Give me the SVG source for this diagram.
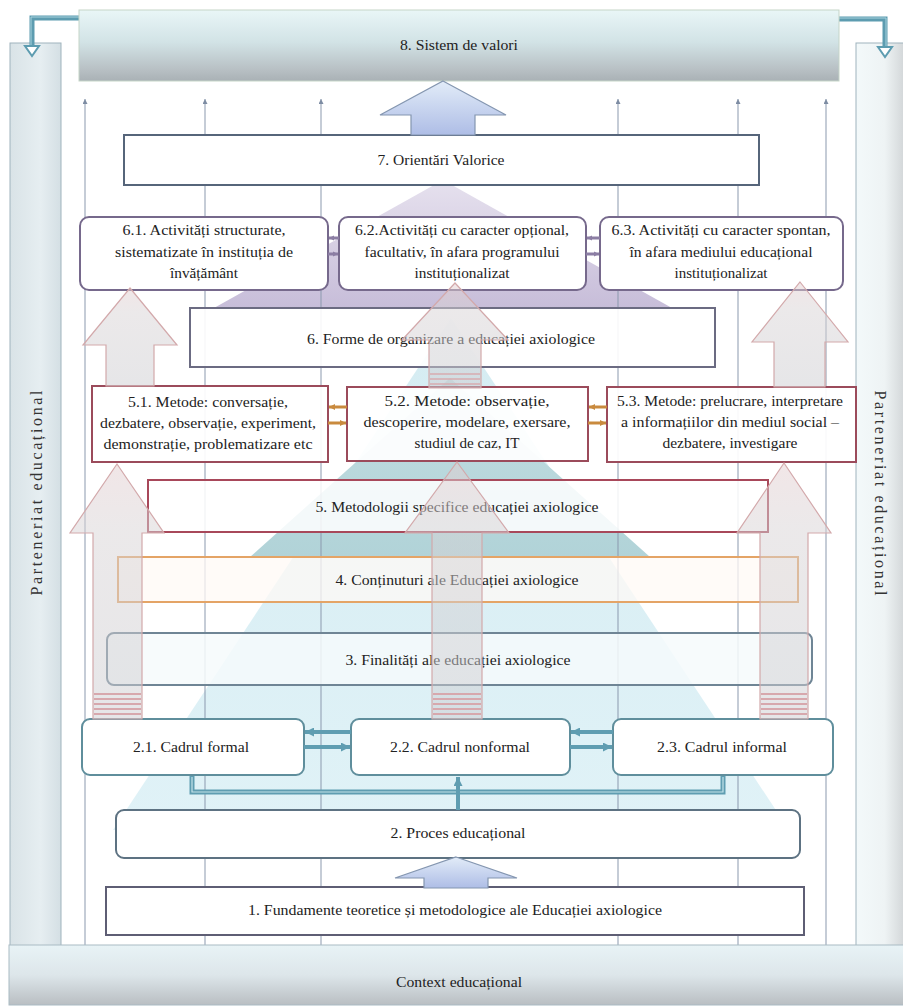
<svg xmlns="http://www.w3.org/2000/svg" width="903" height="1008" viewBox="0 0 903 1008">
<defs>
<style>
.t{font-family:"Liberation Serif","Times New Roman",serif;font-size:15px;fill:#222;text-anchor:middle}
.side{font-family:"Liberation Serif","Times New Roman",serif;font-size:16px;fill:#333;text-anchor:middle}
.vl{stroke:#8b99ae;stroke-width:1;fill:none}
.pa{fill:url(#gPink);fill-opacity:.5;stroke:#d3a9ab;stroke-width:1.2}
.ba{fill:url(#gBlue);stroke:#8496b0;stroke-width:1.2}
.st{stroke:#d7a8ad;stroke-width:2}
.teal{stroke:#5f9db1;stroke-width:4;fill:none}
.or{stroke:#c98a3e;stroke-width:3;fill:none}
.pu{stroke:#8c7ea4;stroke-width:3;fill:none}
</style>
<linearGradient id="g8" x1="0" y1="0" x2="0" y2="1">
<stop offset="0" stop-color="#e9f6f7"/><stop offset="0.45" stop-color="#d2e3e6"/><stop offset="0.85" stop-color="#b7bfc3"/><stop offset="1" stop-color="#a9b1b5"/>
</linearGradient>
<linearGradient id="gCtx" x1="0" y1="0" x2="0" y2="1">
<stop offset="0" stop-color="#e8f3f6"/><stop offset="0.5" stop-color="#dde6ea"/><stop offset="1" stop-color="#b9bec2"/>
</linearGradient>
<linearGradient id="gL" x1="0" y1="0" x2="1" y2="0">
<stop offset="0" stop-color="#d9e3e7"/><stop offset="0.6" stop-color="#e6eef1"/><stop offset="1" stop-color="#d4dfe4"/>
</linearGradient>
<linearGradient id="gR" x1="0" y1="0" x2="1" y2="0">
<stop offset="0" stop-color="#f3f9fa"/><stop offset="0.6" stop-color="#eef3f4"/><stop offset="1" stop-color="#d3d7d9"/>
</linearGradient>
<linearGradient id="gBlue" x1="0" y1="0" x2="0" y2="1">
<stop offset="0" stop-color="#e2ecf8"/><stop offset="1" stop-color="#aebde6"/>
</linearGradient>
<linearGradient id="gPink" x1="0" y1="0" x2="0" y2="1">
<stop offset="0" stop-color="#e3cdcf"/><stop offset="0.25" stop-color="#d8d3d5"/><stop offset="1" stop-color="#cdcdd1"/>
</linearGradient>
<linearGradient id="gLav" x1="0" y1="0" x2="0" y2="1">
<stop offset="0" stop-color="#e6e1ee"/><stop offset="1" stop-color="#c7bdd9"/>
</linearGradient>
<linearGradient id="gTeal" x1="0" y1="0" x2="0" y2="1">
<stop offset="0" stop-color="#c2dde1"/><stop offset="1" stop-color="#b1d3d8"/>
</linearGradient>
<linearGradient id="gLb" x1="0" y1="0" x2="0" y2="1">
<stop offset="0" stop-color="#d5ecf2"/><stop offset="1" stop-color="#e0f2f7"/>
</linearGradient>
<marker id="mV" viewBox="0 0 10 10" refX="10" refY="5" markerWidth="6" markerHeight="5" markerUnits="userSpaceOnUse" orient="auto"><path d="M0,0 L10,5 L0,10 z" fill="#7d8ca3"/></marker>
<marker id="mT" viewBox="0 0 10 10" refX="10" refY="5" markerWidth="9" markerHeight="9" markerUnits="userSpaceOnUse" orient="auto"><path d="M0,0 L10,5 L0,10 z" fill="#5f9db1"/></marker>
<marker id="mO" viewBox="0 0 10 10" refX="10" refY="5" markerWidth="6" markerHeight="6" markerUnits="userSpaceOnUse" orient="auto"><path d="M0,0 L10,5 L0,10 z" fill="#c98a3e"/></marker>
<marker id="mP" viewBox="0 0 10 10" refX="10" refY="5" markerWidth="5" markerHeight="6" markerUnits="userSpaceOnUse" orient="auto"><path d="M0,0 L10,5 L0,10 z" fill="#8c7ea4"/></marker>
</defs>

<g id="background">
<rect x="0" y="0" width="903" height="1008" fill="#ffffff"/>
<rect id="bar-left" x="10" y="43" width="51" height="910" fill="url(#gL)" stroke="#9fb3bd" stroke-width="1"/>
<rect id="bar-right" x="856" y="43" width="48" height="910" fill="url(#gR)" stroke="#9fb3bd" stroke-width="1"/>
<polygon points="451,318 113,830 789,830" fill="url(#gLb)"/>
<polygon points="443,180 214,308 672,308" fill="url(#gLav)"/>
<polygon points="450,378 250,557 650,557" fill="url(#gTeal)"/>
</g>

<g id="connectors">
<g id="thin-lines">
<path class="vl" d="M85 945 V99" marker-end="url(#mV)"/>
<path class="vl" d="M205 945 V99" marker-end="url(#mV)"/>
<path class="vl" d="M321 945 V99" marker-end="url(#mV)"/>
<path class="vl" d="M618 945 V99" marker-end="url(#mV)"/>
<path class="vl" d="M738 945 V99" marker-end="url(#mV)"/>
<path class="vl" d="M826 945 V99" marker-end="url(#mV)"/>
</g>
<g id="bent-arrows">
<path d="M84 18 H32 V47" fill="none" stroke="#5d9cb0" stroke-width="5"/>
<path d="M84 17 H31 V47" fill="none" stroke="#a9d3de" stroke-width="1"/>
<polygon points="25,46 39,46 32,56" fill="#fff" stroke="#5d9cb0" stroke-width="2"/>
<path d="M833 19 H885 V48" fill="none" stroke="#5d9cb0" stroke-width="5"/>
<path d="M833 18 H886 V48" fill="none" stroke="#a9d3de" stroke-width="1"/>
<polygon points="878,47 892,47 885,57" fill="#fff" stroke="#5d9cb0" stroke-width="2"/>
</g>
</g>

<g id="n8">
<rect x="79" y="10" width="760" height="71" fill="url(#g8)" stroke="#c5d5c8" stroke-width="1"/>
<text class="t" x="459" y="50" textLength="118" lengthAdjust="spacingAndGlyphs">8. Sistem de valori</text>
</g>

<g id="n7">
<rect x="124" y="135" width="635" height="50" fill="#fff" stroke="#56657a" stroke-width="2"/>
<text class="t" x="441" y="165" textLength="127" lengthAdjust="spacingAndGlyphs">7. Orientări Valorice</text>
</g>

<g id="n6-1">
<rect x="80" y="217" width="248" height="73" rx="9" fill="#fff" stroke="#76698c" stroke-width="2"/>
<text class="t" x="204" y="235" textLength="163" lengthAdjust="spacingAndGlyphs">6.1. Activități structurate,</text>
<text class="t" x="204" y="257" textLength="178" lengthAdjust="spacingAndGlyphs">sistematizate în instituția de</text>
<text class="t" x="204" y="278" textLength="68" lengthAdjust="spacingAndGlyphs">învățământ</text>
</g>
<g id="n6-2">
<rect x="339" y="217" width="247" height="73" rx="9" fill="#fff" stroke="#76698c" stroke-width="2"/>
<text class="t" x="462" y="235" textLength="214" lengthAdjust="spacingAndGlyphs">6.2.Activități cu caracter opțional,</text>
<text class="t" x="462" y="257" textLength="195" lengthAdjust="spacingAndGlyphs">facultativ, în afara programului</text>
<text class="t" x="462" y="278" textLength="95" lengthAdjust="spacingAndGlyphs">instituționalizat</text>
</g>
<g id="n6-3">
<rect x="600" y="217" width="243" height="73" rx="9" fill="#fff" stroke="#76698c" stroke-width="2"/>
<text class="t" x="721" y="235" textLength="219" lengthAdjust="spacingAndGlyphs">6.3. Activități cu caracter spontan,</text>
<text class="t" x="721" y="257" textLength="183" lengthAdjust="spacingAndGlyphs">în afara mediului educațional</text>
<text class="t" x="721" y="278" textLength="93" lengthAdjust="spacingAndGlyphs">instituționalizat</text>
</g>

<g id="n6">
<rect x="190" y="308" width="525" height="59" fill="#fff" fill-opacity="0.9" stroke="#6b6b82" stroke-width="2"/>
<text class="t" x="451" y="344" textLength="288" lengthAdjust="spacingAndGlyphs">6. Forme de organizare a educației axiologice</text>
</g>

<g id="n5-1">
<rect x="92" y="386" width="236" height="76" fill="#fff" fill-opacity="0.92" stroke="#9b4b5b" stroke-width="2"/>
<text class="t" x="208" y="407" textLength="160" lengthAdjust="spacingAndGlyphs">5.1. Metode: conversație,</text>
<text class="t" x="208" y="428" textLength="216" lengthAdjust="spacingAndGlyphs">dezbatere, observație, experiment,</text>
<text class="t" x="208" y="449" textLength="209" lengthAdjust="spacingAndGlyphs">demonstrație, problematizare etc</text>
</g>
<g id="n5-2">
<rect x="347" y="387" width="241" height="74" fill="#fff" fill-opacity="0.92" stroke="#9b4b5b" stroke-width="2"/>
<text class="t" x="467" y="406" textLength="165" lengthAdjust="spacingAndGlyphs">5.2. Metode: observație,</text>
<text class="t" x="467" y="427" textLength="207" lengthAdjust="spacingAndGlyphs">descoperire, modelare, exersare,</text>
<text class="t" x="467" y="448" textLength="105" lengthAdjust="spacingAndGlyphs">studiul de caz, IT</text>
</g>
<g id="n5-3">
<rect x="607" y="387" width="249" height="75" fill="#fff" fill-opacity="0.92" stroke="#9b4b5b" stroke-width="2"/>
<text class="t" x="730" y="406" textLength="226" lengthAdjust="spacingAndGlyphs">5.3. Metode: prelucrare, interpretare</text>
<text class="t" x="730" y="427" textLength="218" lengthAdjust="spacingAndGlyphs">a informațiilor din mediul social –</text>
<text class="t" x="730" y="448" textLength="135" lengthAdjust="spacingAndGlyphs">dezbatere, investigare</text>
</g>

<g id="n5">
<rect x="148" y="480" width="620" height="52" fill="#fff" fill-opacity="0.85" stroke="#a8485a" stroke-width="2"/>
<text class="t" x="457" y="512" textLength="283" lengthAdjust="spacingAndGlyphs">5. Metodologii specifice educației axiologice</text>
</g>

<g id="n4">
<rect x="118" y="557" width="680" height="45" fill="#fffaf5" fill-opacity="0.75" stroke="#e4a466" stroke-width="2"/>
<text class="t" x="457" y="585" textLength="243" lengthAdjust="spacingAndGlyphs">4. Conținuturi ale Educației axiologice</text>
</g>

<g id="n3">
<rect x="107" y="633" width="705" height="52" rx="7" fill="#f6fafc" fill-opacity="0.85" stroke="#6f8595" stroke-width="2"/>
<text class="t" x="458" y="665" textLength="225" lengthAdjust="spacingAndGlyphs">3. Finalități ale educației axiologice</text>
</g>

<g id="n2-1">
<rect x="82" y="719" width="222" height="56" rx="8" fill="#fff" stroke="#5f8e9c" stroke-width="2"/>
<text class="t" x="191" y="752" textLength="116" lengthAdjust="spacingAndGlyphs">2.1. Cadrul formal</text>
</g>
<g id="n2-2">
<rect x="351" y="719" width="219" height="56" rx="8" fill="#fff" stroke="#5f8e9c" stroke-width="2"/>
<text class="t" x="460" y="752" textLength="140" lengthAdjust="spacingAndGlyphs">2.2. Cadrul nonformal</text>
</g>
<g id="n2-3">
<rect x="613" y="719" width="220" height="56" rx="8" fill="#fff" stroke="#5f8e9c" stroke-width="2"/>
<text class="t" x="722" y="752" textLength="130" lengthAdjust="spacingAndGlyphs">2.3. Cadrul informal</text>
</g>

<g id="n2">
<rect x="116" y="810" width="684" height="48" rx="8" fill="#fff" stroke="#5d7282" stroke-width="2"/>
<text class="t" x="458" y="838" textLength="135" lengthAdjust="spacingAndGlyphs">2. Proces educațional</text>
</g>

<g id="n1">
<rect x="106" y="887" width="698" height="48" fill="#fff" stroke="#5e5e74" stroke-width="2"/>
<text class="t" x="455" y="915" textLength="414" lengthAdjust="spacingAndGlyphs">1. Fundamente teoretice și metodologice ale Educației axiologice</text>
</g>

<g id="context">
<rect x="9" y="945" width="895" height="60" fill="url(#gCtx)" stroke="#aabbc4" stroke-width="1"/>
<text class="t" x="459" y="987" textLength="126" lengthAdjust="spacingAndGlyphs">Context educațional</text>
</g>

<g id="partner-left">
<text class="side" transform="translate(37,493) rotate(-90)" x="0" y="5" textLength="205" lengthAdjust="spacing">Parteneriat educațional</text>
</g>
<g id="partner-right">
<text class="side" transform="translate(880,493) rotate(90)" x="0" y="5" textLength="205" lengthAdjust="spacing">Parteneriat educațional</text>
</g>

<g id="block-arrows">
<path class="ba" d="M443 81 L506 115 L475 115 L475 135 L411 135 L411 115 L380 115 Z"/>
<path class="ba" d="M456 857 L517 878 L488 878 L488 888 L424 888 L424 878 L395 878 Z"/>
<path class="pa" d="M130 288 L177 345 L154 345 L154 386 L106 386 L106 345 L83 345 Z"/>
<path class="pa" d="M117 464 L164 533 L142 533 L142 719 L93 719 L93 533 L70 533 Z"/>
<path class="pa" d="M455 283 L508 340 L481 340 L481 388 L429 388 L429 340 L402 340 Z"/>
<path class="pa" d="M457 462 L509 533 L482 533 L482 719 L432 719 L432 533 L405 533 Z"/>
<path class="pa" d="M800 282 L848 342 L825 342 L825 387 L774 387 L774 342 L752 342 Z"/>
<path class="pa" d="M784 463 L831 533 L808 533 L808 719 L760 719 L760 533 L737 533 Z"/>
<g id="stripes">
<path class="st" d="M94 694 H141 M94 699 H141 M94 704 H141 M94 709 H141 M94 714 H141"/>
<path class="st" d="M433 694 H481 M433 699 H481 M433 704 H481 M433 709 H481 M433 714 H481"/>
<path class="st" d="M761 694 H807 M761 699 H807 M761 704 H807 M761 709 H807 M761 714 H807"/>
<path class="st" d="M430 374 H480 M430 379 H480 M430 384 H480" stroke-opacity="0.7"/>
</g>
</g>

<g id="links">
<path class="pu" d="M339 238 H329" marker-end="url(#mP)"/>
<path class="pu" d="M328 254 H338" marker-end="url(#mP)"/>
<path class="pu" d="M600 238 H587" marker-end="url(#mP)"/>
<path class="pu" d="M586 254 H599" marker-end="url(#mP)"/>
<path class="or" d="M347 407 H329" marker-end="url(#mO)"/>
<path class="or" d="M328 423 H346" marker-end="url(#mO)"/>
<path class="or" d="M607 407 H589" marker-end="url(#mO)"/>
<path class="or" d="M588 423 H606" marker-end="url(#mO)"/>
<path class="teal" d="M351 732 H305" marker-end="url(#mT)"/>
<path class="teal" d="M304 747 H350" marker-end="url(#mT)"/>
<path class="teal" d="M613 732 H571" marker-end="url(#mT)"/>
<path class="teal" d="M570 747 H612" marker-end="url(#mT)"/>
<path d="M192 776 V792 H723 V776" fill="none" stroke="#5f9db1" stroke-width="5"/>
<path d="M192 777 V792 H723 V777" fill="none" stroke="#c4e3ea" stroke-width="1.2"/>
<path class="teal" d="M458 810 V777" marker-end="url(#mT)"/>
</g>
</svg>
